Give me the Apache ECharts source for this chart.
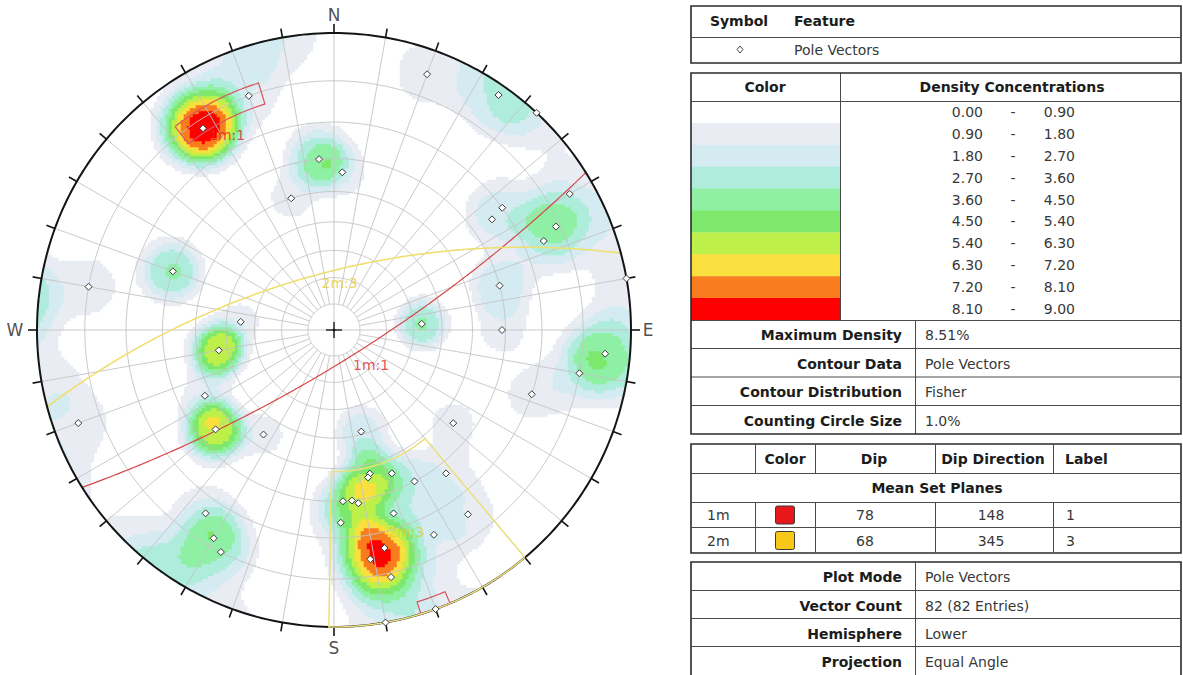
<!DOCTYPE html>
<html>
<head>
<meta charset="utf-8">
<script src="https://cdn.jsdelivr.net/npm/echarts@6/dist/echarts.min.js"></script>
<style>
  html, body { margin: 0; padding: 0; background: #ffffff; }
  #chart { width: 1183px; height: 675px; }
</style>
</head>
<body>
<div id="chart"></div>
<script>
// ---- Pole vectors: trend / plunge (degrees) and number of entries at each orientation ----
const poleTrends  = [327, 340, 20, 35, 43, 60, 54, 55, 65, 67, 80, 75, 86, 90, 95, 100, 108,
                     355, 3, 342, 290, 280, 275, 260, 243, 230, 250, 214, 215, 210, 207,
                     165, 128, 166, 167, 158, 152, 142, 177, 174, 172, 162, 144, 178, 154,
                     167, 171, 167, 160, 170];
const polePlunges = [12, 10, 5, 2, 0, 5, 20, 24, 11, 15, 0, 30, 57, 31, 5, 10, 20,
                     30, 34, 40, 30, 10, 55, 47, 38, 35, 5, 44, 16, 12, 10,
                     51, 36, 37, 36, 35, 30, 27, 30, 30, 29, 24, 15, 24, 15,
                     16, 14, 9, 0, 0];
const poleCounts  = [7, 1, 1, 2, 1, 1, 1, 1, 2, 1, 1, 2, 3, 1, 3, 1, 1,
                     3, 1, 1, 3, 1, 1, 5, 1, 5, 1, 1, 1, 2, 1,
                     2, 1, 2, 1, 1, 1, 1, 1, 1, 1, 1, 1, 1, 1,
                     3, 3, 1, 1, 1];

// ---- Density legend ----
const densityBreaks = [0.00, 0.90, 1.80, 2.70, 3.60, 4.50, 5.40, 6.30, 7.20, 8.10, 9.00];
const densityColors = ['#ffffff', '#e9edf3', '#d3ebf1', '#afecdc', '#8ff0a4', '#7de86c',
                       '#bdf04a', '#f9e03e', '#f97d1f', '#ff0000'];

// ---- Mean set planes ----
const setIds      = ['1m', '2m'];
const setDips     = [78, 68];
const setDipDirs  = [148, 345];
const setLabels   = ['1', '3'];
const setSwatches = ['#e8171b', '#f7c816'];
const setLines    = ['#d64848', '#efdf70'];
const setText     = ['#de2626', '#e7cb34'];

// ---- Set windows (trend range, plunge range) ----
const windowTrends  = [[322, 343], [157, 163], [140, 181]];
const windowPlunges = [[8, 13], [0, 2.5], [0, 39]];
const windowColors  = ['#d9555e', '#d9555e', '#ece07c'];

// ---- Info tables ----
const summaryLabels = ['Maximum Density', 'Contour Data', 'Contour Distribution', 'Counting Circle Size'];
const summaryValues = ['8.51%', 'Pole Vectors', 'Fisher', '1.0%'];
const infoLabels    = ['Plot Mode', 'Vector Count', 'Hemisphere', 'Projection'];
const infoValues    = ['Pole Vectors', '82 (82 Entries)', 'Lower', 'Equal Angle'];
const compassNames  = ['N', 'E', 'S', 'W'];
const compassAz     = [0, 90, 180, 270];

// ---------------------------------------------------------------------------
const RAD = Math.PI / 180;
const NET_R = 297;            // net radius, px
const HALF = 330;             // half size of the plotting square, px
const SPAN = HALF / NET_R;    // same, in net radii
const CELLS = 220;            // heatmap cells per side (3 px each)

// direction cosines (north, east, down) of a trend/plunge line
function toVec(trend, plunge) {
  const t = trend * RAD, p = plunge * RAD;
  return [Math.cos(p) * Math.cos(t), Math.cos(p) * Math.sin(t), Math.sin(p)];
}
// lower-hemisphere equal-angle (stereographic) projection, unit net radius
function project(v) {
  let n = v[0], e = v[1], d = v[2];
  if (d < 0) { n = -n; e = -e; d = -d; }
  return [e / (1 + d), n / (1 + d)];
}
function projTP(trend, plunge) { return project(toVec(trend, plunge)); }

// ---- Fisher-type density of the pole vectors on a grid of the net ----
const totalCount = poleCounts.reduce((a, b) => a + b, 0);
const poleVecs = poleTrends.map((t, i) => toVec(t, polePlunges[i]));
const KERNEL_DEG = 9;
const heatData = [];
for (let i = 0; i < CELLS; i++) {
  for (let j = 0; j < CELLS; j++) {
    const x = -SPAN + (i + 0.5) * 2 * SPAN / CELLS;
    const y = -SPAN + (j + 0.5) * 2 * SPAN / CELLS;
    const r2 = x * x + y * y;
    if (r2 > 1) continue;
    const n = 2 * y / (1 + r2), e = 2 * x / (1 + r2), d = (1 - r2) / (1 + r2);
    let s = 0;
    for (let k = 0; k < poleVecs.length; k++) {
      const pv = poleVecs[k];
      const c = Math.abs(n * pv[0] + e * pv[1] + d * pv[2]);
      if (c < 0.85) continue;
      const th = Math.acos(Math.min(1, c)) / RAD;
      s += poleCounts[k] * Math.exp(-Math.pow(th / KERNEL_DEG, 3));
    }
    const val = s * 100 / totalCount;
    if (val >= densityBreaks[1]) heatData.push([i, j, val]);
  }
}

// ---- net grid: plunge circles and trend lines ----
const gridCurves = [];
for (let p = 10; p <= 80; p += 10) {
  const pts = [];
  for (let a = 0; a <= 360; a += 2) pts.push(projTP(a, p));
  gridCurves.push(pts);
}
for (let a = 0; a < 360; a += 10) {
  gridCurves.push([projTP(a, a % 90 === 0 ? 90 : 80), projTP(a, 0)]);
}

// primitive circle and 10-degree ticks
const primitive = [];
for (let a = 0; a <= 360; a += 1) primitive.push(projTP(a, 0));
const ticks = [];
const TICK = 1 + 9 / NET_R;
for (let a = 0; a < 360; a += 10) {
  const p = projTP(a, 0);
  ticks.push([p, [p[0] * TICK, p[1] * TICK]]);
}
const CROSS = 8 / NET_R;
const cross = [[[-CROSS, 0], [CROSS, 0]], [[0, -CROSS], [0, CROSS]]];

// set windows
function windowOutline(t, p) {
  const pts = [];
  for (let a = t[0]; a <= t[1] + 1e-9; a += 0.5) pts.push(projTP(a, p[0]));
  for (let a = t[1]; a >= t[0] - 1e-9; a -= 0.5) pts.push(projTP(a, p[1]));
  pts.push(pts[0]);
  return pts;
}

// great circle of a plane given dip / dip direction
function greatCircle(dip, dipDir) {
  const s = toVec(dipDir - 90, 0), d = toVec(dipDir, dip);
  const pts = [];
  for (let t = 0; t <= 180; t += 1) {
    const c = Math.cos(t * RAD), sn = Math.sin(t * RAD);
    pts.push(project([c * s[0] + sn * d[0], c * s[1] + sn * d[1], c * s[2] + sn * d[2]]));
  }
  return pts;
}

const planeLabels = setIds.map((id, i) => ({
  value: projTP(setDipDirs[i], setDips[i]),
  name: id + ':' + setLabels[i],
  label: { color: setText[i] }
}));
const poleLabels = setIds.map((id, i) => ({
  value: projTP(setDipDirs[i] + 180, 90 - setDips[i]),
  name: id + ':' + setLabels[i],
  label: { color: setText[i] }
}));
const compassOffsets = [18, 17, 21, 22];
const compassData = compassNames.map((nm, i) => {
  const a = compassAz[i] * RAD, r = 1 + compassOffsets[i] / NET_R;
  return { value: [r * Math.sin(a), r * Math.cos(a)], name: nm };
});

// ---- legend tables (graphic elements) ----
const FONT = '"DejaVu Sans", "Noto Sans", sans-serif';
const G = [];
const X0 = 691, X1 = 1181;
function gRect(x, y, w, h, fill, stroke, lw) {
  G.push({ type: 'rect', silent: true, shape: { x: x, y: y, width: w, height: h },
    style: { fill: fill || 'none', stroke: stroke || 'none', lineWidth: lw || 0 } });
}
function gLine(x1, y1, x2, y2, c, lw) {
  G.push({ type: 'line', silent: true, shape: { x1: x1, y1: y1, x2: x2, y2: y2 },
    style: { stroke: c || '#4a4a4a', lineWidth: lw || 1 } });
}
function gText(x, y, t, align, bold, color) {
  G.push({ type: 'text', silent: true, x: x, y: y,
    style: { text: t, font: (bold ? 'bold ' : '') + '14px ' + FONT,
      fill: color || (bold ? '#1c1c1c' : '#383838'),
      textAlign: align || 'left', align: align || 'left',
      textVerticalAlign: 'middle', verticalAlign: 'middle' } });
}

// table: symbol / feature
gRect(X0, 6, X1 - X0, 57, '#fff', '#2a2a2a', 1.6);
gLine(X0, 37.5, X1, 37.5);
gText(739, 21, 'Symbol', 'center', true);
gText(794, 21, 'Feature', 'left', true);
G.push({ type: 'polygon', silent: true, shape: { points: [[740, 46], [743, 49.5], [740, 53], [737, 49.5]] },
  style: { fill: '#fff', stroke: '#444', lineWidth: 1 } });
gText(794, 49.5, 'Pole Vectors');

// table: density concentrations + contour summary
const ROW_H = 21.9;
gRect(X0, 73, X1 - X0, 361, '#fff', null, 0);
for (let k = 0; k < densityColors.length; k++) {
  gRect(X0, 101 + k * ROW_H, 840 - X0, ROW_H + 0.4, densityColors[k], null, 0);
  const cy = 101 + (k + 0.5) * ROW_H;
  gText(983, cy, densityBreaks[k].toFixed(2), 'right');
  gText(1013, cy, '-', 'center');
  gText(1075, cy, densityBreaks[k + 1].toFixed(2), 'right');
}
gText(765, 87, 'Color', 'center', true);
gText(1012, 87, 'Density Concentrations', 'center', true);
gLine(X0, 101.5, X1, 101.5);
gLine(840.5, 73, 840.5, 320);
gLine(X0, 320.5, X1, 320.5);
const sumRows = [320, 348.5, 377, 405.5, 434];
for (let k = 0; k < summaryLabels.length; k++) {
  const cy = (sumRows[k] + sumRows[k + 1]) / 2 + 1;
  gText(902, cy, summaryLabels[k], 'right', true);
  gText(925, cy, summaryValues[k]);
  if (k > 0) gLine(X0, sumRows[k], X1, sumRows[k]);
}
gLine(915.5, 320, 915.5, 434);
gRect(X0, 73, X1 - X0, 361, 'none', '#2a2a2a', 1.6);

// table: mean set planes
gRect(X0, 444, X1 - X0, 109, '#fff', '#2a2a2a', 1.6);
gLine(X0, 473.5, X1, 473.5);
gLine(X0, 502.5, X1, 502.5);
gLine(X0, 527.5, X1, 527.5);
[755.5, 815.5, 935.5, 1053.5].forEach(x => { gLine(x, 444, x, 473.5); gLine(x, 502.5, x, 553); });
gText(785, 459, 'Color', 'center', true);
gText(874, 459, 'Dip', 'center', true);
gText(993, 459, 'Dip Direction', 'center', true);
gText(1065, 459, 'Label', 'left', true);
gText(937, 488, 'Mean Set Planes', 'center', true);
setIds.forEach((id, i) => {
  const cy = i === 0 ? 515 : 540.5;
  gText(707, cy, id);
  G.push({ type: 'rect', silent: true, shape: { x: 775.5, y: cy - 9, width: 19, height: 18, r: 2 },
    style: { fill: setSwatches[i], stroke: '#3a3a3a', lineWidth: 1 } });
  gText(865, cy, String(setDips[i]), 'center');
  gText(991, cy, String(setDipDirs[i]), 'center');
  gText(1066, cy, setLabels[i]);
});

// table: plot information
gRect(X0, 562, X1 - X0, 130, '#fff', '#2a2a2a', 1.6);
const infoRows = [562, 590.5, 618.5, 646.5, 675];
for (let k = 0; k < infoLabels.length; k++) {
  const cy = (infoRows[k] + infoRows[k + 1]) / 2 + 1;
  gText(902, cy, infoLabels[k], 'right', true);
  gText(925, cy, infoValues[k]);
  if (k > 0) gLine(X0, infoRows[k], X1, infoRows[k]);
}
gLine(915.5, 562, 915.5, 680);

// ---------------------------------------------------------------------------
const cellIdx = Array.from({ length: CELLS }, (_, i) => i);
const valueAxis = { type: 'value', min: -SPAN, max: SPAN, show: false, scale: false };

const visualPieces = [];
for (let k = 1; k < densityColors.length; k++) {
  const piece = { gte: densityBreaks[k], color: densityColors[k] };
  if (k < densityColors.length - 1) piece.lt = densityBreaks[k + 1];
  visualPieces.push(piece);
}

function linesSeries(curves, color, width, z, opacity) {
  return {
    type: 'lines', coordinateSystem: 'cartesian2d', xAxisIndex: 1, yAxisIndex: 1,
    polyline: true, silent: true, z: z, animation: false,
    data: curves.map(c => ({ coords: c })),
    lineStyle: { color: color, width: width, opacity: opacity == null ? 1 : opacity, curveness: 0 }
  };
}

const greatCircles = setDips.map((d, i) => greatCircle(d, setDipDirs[i]));
const windowShapes = windowTrends.map((t, i) => windowOutline(t, windowPlunges[i]));

const option = {
  animation: false,
  backgroundColor: '#ffffff',
  grid: { left: 334 - HALF, top: 330 - HALF, width: 2 * HALF, height: 2 * HALF, containLabel: false },
  xAxis: [
    { type: 'category', data: cellIdx, show: false, boundaryGap: true },
    Object.assign({}, valueAxis)
  ],
  yAxis: [
    { type: 'category', data: cellIdx, show: false, boundaryGap: true },
    Object.assign({}, valueAxis)
  ],
  visualMap: {
    type: 'piecewise', show: false, seriesIndex: 0, dimension: 2, pieces: visualPieces
  },
  graphic: { elements: G },
  series: [
    {
      type: 'heatmap', xAxisIndex: 0, yAxisIndex: 0, data: heatData,
      progressive: 0, silent: true, z: 1, itemStyle: { borderWidth: 0 },
      emphasis: { disabled: true }
    },
    linesSeries(gridCurves, '#c4c4c4', 1, 2, 0.9),
    linesSeries([greatCircles[0]], setLines[0], 1.2, 4),
    linesSeries([greatCircles[1]], setLines[1], 1.6, 4),
    linesSeries([primitive], '#141414', 2, 5),
    linesSeries(ticks, '#141414', 1.6, 5),
    linesSeries(cross, '#1a1a1a', 1.4, 5),
    linesSeries(windowShapes.slice(0, 2), windowColors[0], 1.2, 6),
    linesSeries(windowShapes.slice(2, 3), windowColors[2], 1.5, 6),
    {
      type: 'scatter', xAxisIndex: 1, yAxisIndex: 1, z: 7, silent: true,
      symbol: 'diamond', symbolSize: 7,
      data: poleTrends.map((t, i) => projTP(t, polePlunges[i])),
      itemStyle: { color: '#ffffff', borderColor: '#3a3a3a', borderWidth: 1, opacity: 1 }
    },
    {
      type: 'scatter', xAxisIndex: 1, yAxisIndex: 1, z: 5, silent: true,
      symbol: 'circle', symbolSize: 3, data: [[0, 0]],
      itemStyle: { color: '#111' }
    },
    {
      type: 'scatter', xAxisIndex: 1, yAxisIndex: 1, z: 8, silent: true,
      symbolSize: 1, itemStyle: { color: 'transparent' },
      data: planeLabels.concat(poleLabels),
      label: { show: true, formatter: '{b}', position: [3, 2], align: 'left', verticalAlign: 'top',
        fontFamily: FONT, fontSize: 14 }
    },
    {
      type: 'scatter', xAxisIndex: 1, yAxisIndex: 1, z: 8, silent: true,
      symbolSize: 1, itemStyle: { color: 'transparent' },
      data: compassData,
      label: { show: true, formatter: '{b}', position: 'inside', color: '#222',
        fontFamily: FONT, fontSize: 17 }
    }
  ]
};

const chart = echarts.init(document.getElementById('chart'), null, { renderer: 'svg' });
chart.setOption(option);
</script>
</body>
</html>
